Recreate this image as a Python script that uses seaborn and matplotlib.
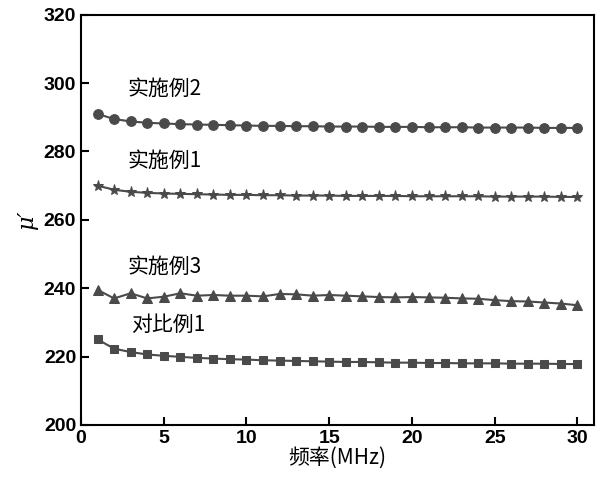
import numpy as np
import pandas as pd
import matplotlib
matplotlib.use('Agg')
import matplotlib.pyplot as plt
import seaborn as sns

CJK = ['Noto Sans CJK SC', 'Noto Sans CJK JP', 'Noto Sans CJK TC', 'Noto Sans CJK KR', 'DejaVu Sans']
plt.rcParams['font.family'] = ['Liberation Sans'] + CJK
plt.rcParams['font.weight'] = 'bold'

freq = list(range(1, 31))
ex2 = [291, 289.5, 288.8, 288.4, 288.2, 288.0, 287.9, 287.8, 287.7, 287.6, 287.5, 287.5, 287.4, 287.4,
       287.3, 287.3, 287.3, 287.2, 287.2, 287.2, 287.1, 287.1, 287.1, 287.0, 287.0, 287.0, 287.0, 286.9, 286.9, 286.9]
ex1 = [270, 268.8, 268.2, 267.9, 267.7, 267.6, 267.5, 267.4, 267.3, 267.3, 267.2, 267.2, 267.1, 267.1,
       267.1, 267.0, 267.0, 267.0, 267.0, 266.9, 266.9, 266.9, 266.9, 266.9, 266.8, 266.8, 266.8, 266.8, 266.7, 266.7]
ex3 = [239.5, 237, 238.5, 237, 237.5, 238.5, 237.8, 238, 237.8, 237.8, 237.6, 238.3, 238.2, 237.8, 238,
       237.8, 237.6, 237.4, 237.3, 237.4, 237.3, 237.2, 237, 236.9, 236.5, 236.2, 236.1, 235.8, 235.5, 235.0]
cmp1 = [225, 222.3, 221.3, 220.6, 220.2, 219.9, 219.6, 219.4, 219.2, 219.1, 218.9, 218.8, 218.7, 218.6,
        218.5, 218.4, 218.4, 218.3, 218.2, 218.2, 218.1, 218.1, 218.0, 218.0, 218.0, 217.9, 217.9, 217.9, 217.8, 217.8]

series = [('实施例2', ex2, 'o', 7), ('实施例1', ex1, '*', 8), ('实施例3', ex3, '^', 7), ('对比例1', cmp1, 's', 6)]
label_pos = [(2.8, 295), (2.8, 274), (2.8, 243), (3.0, 226)]

fig, ax = plt.subplots(figsize=(6, 4.94), dpi=100)
color = '#4a4a4a'
for (name, vals, mk, ms), (lx, ly) in zip(series, label_pos):
    df = pd.DataFrame({'f': freq, 'v': vals})
    sns.lineplot(data=df, x='f', y='v', ax=ax, color=color, marker=mk, markersize=ms,
                 markeredgecolor=color, linewidth=1.5)
    ax.text(lx, ly, name, fontsize=15, fontfamily=CJK, fontweight='normal', va='bottom')

ax.set_xlim(0, 31)
ax.set_ylim(200, 320)
ax.set_xticks([0, 5, 10, 15, 20, 25, 30])
ax.set_yticks(range(200, 321, 20))
ax.tick_params(direction='in', which='both', labelsize=14, width=1.5, length=6)
for s in ax.spines.values():
    s.set_linewidth(1.5)
ax.set_xlabel('频率(MHz)', fontsize=15, fontfamily=CJK, fontweight='normal', labelpad=0)
ax.set_ylabel("μ′", fontsize=16, fontstyle='italic', fontfamily='DejaVu Serif')
plt.subplots_adjust(left=0.135, right=0.99, top=0.97, bottom=0.14)
plt.savefig('out.png', dpi=100)
